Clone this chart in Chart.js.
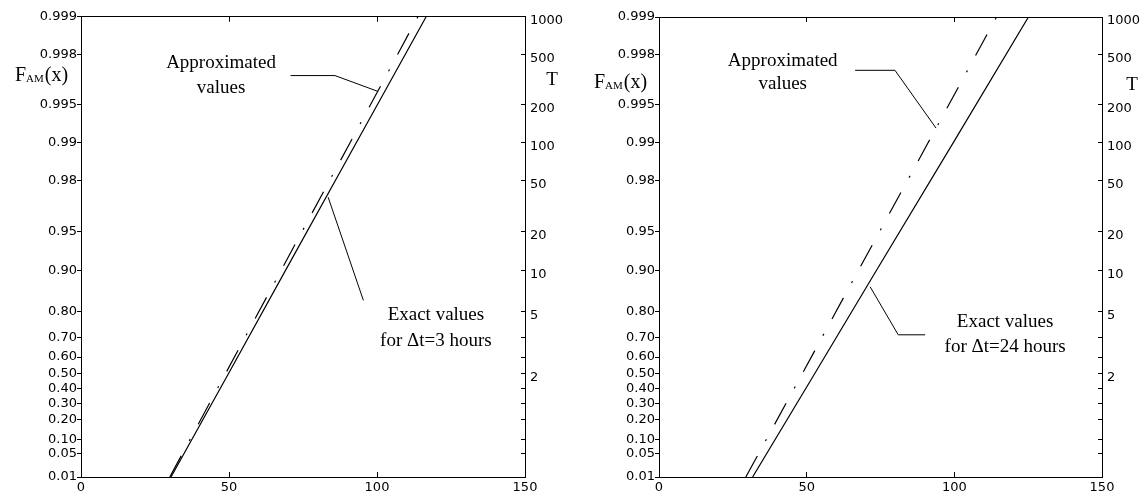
<!DOCTYPE html>
<html lang="en">
<head>
<meta charset="UTF-8">
<title>F_AM(x) - exact vs approximated values</title>
<script src="https://cdn.jsdelivr.net/npm/chart.js"></script>
<style>
    html, body { margin: 0; padding: 0; background: #fff; }
    #wrap { position: relative; width: 1147px; height: 495px; }
    .panel { position: absolute; top: 0; height: 495px; }
    #left { left: 0; width: 573px; }
    #right { left: 573px; width: 574px; }
</style>
</head>
<body>
<div id="wrap">
    <div class="panel" id="left"><canvas id="chartLeft"></canvas></div>
    <div class="panel" id="right"><canvas id="chartRight"></canvas></div>
</div>
<script>
// Gumbel probability paper: F on the left axis, return period T on the right
const probTicks = [0.01, 0.05, 0.10, 0.20, 0.30, 0.40, 0.50, 0.60, 0.70, 0.80, 0.90, 0.95, 0.98, 0.99, 0.995, 0.998, 0.999];
const probLabels = ['0.01', '0.05', '0.10', '0.20', '0.30', '0.40', '0.50', '0.60', '0.70', '0.80', '0.90', '0.95', '0.98', '0.99', '0.995', '0.998', '0.999'];
const periodLabels = ['', '', '', '', '', '', '2', '', '', '5', '10', '20', '50', '100', '200', '500', '1000'];
const xTicks = [0, 50, 100, 150];

// x values at these probability levels
const readProbs = [0.01, 0.50, 0.90, 0.99, 0.999];
const exact3h = [30.4, 49.8, 69.0, 93.0, 116.6];
const approx3h = [30.0, 48.8, 67.5, 90.9, 113.8];
const exact24h = [31.7, 52.7, 73.5, 99.6, 125.1];
const approx24h = [29.4, 48.5, 67.4, 91.1, 114.3];

// reduced variate, the axis is linear in it
const gumbel = p => -Math.log(-Math.log(p));

Chart.defaults.font.family = '"DejaVu Sans", sans-serif';
Chart.defaults.font.size = 13;
Chart.defaults.color = '#000';

const serif = '"Liberation Serif", "Times New Roman", serif';

// text + leader lines, positions in data units (x, reduced variate)
const notesPlugin = {
    id: 'notes',
    afterDraw(chart, args, opts) {
        const ctx = chart.ctx;
        const xs = chart.scales.x, ys = chart.scales.y;
        const area = chart.chartArea;
        ctx.save();
        ctx.strokeStyle = '#000';
        ctx.lineWidth = 1;
        opts.leaders.forEach(pts => {
            ctx.beginPath();
            pts.forEach((p, i) => {
                const px = xs.getPixelForValue(p[0]), py = ys.getPixelForValue(p[1]);
                if (i === 0) ctx.moveTo(px, py); else ctx.lineTo(px, py);
            });
            ctx.stroke();
        });
        ctx.fillStyle = '#000';
        ctx.font = '19px ' + serif;
        ctx.textAlign = 'center';
        ctx.textBaseline = 'middle';
        opts.texts.forEach(t => {
            ctx.fillText(t.text, xs.getPixelForValue(t.x), ys.getPixelForValue(t.g));
        });

        // axis titles: F_AM(x) left, T right
        const big = '20px ' + serif, small = '11px ' + serif;
        ctx.font = big; const wF = ctx.measureText('F').width; const wX = ctx.measureText('(x)').width;
        ctx.font = small; const wAM = ctx.measureText('AM').width;
        const cy = ys.getPixelForValue(opts.fTitleG);
        let sx = area.left + opts.fTitleDx - (wF + wAM + wX) / 2;
        ctx.textAlign = 'left';
        ctx.font = big; ctx.fillText('F', sx, cy);
        ctx.font = small; ctx.fillText('AM', sx + wF, cy + 4);
        ctx.font = big; ctx.fillText('(x)', sx + wF + wAM + 1, cy);
        ctx.textAlign = 'center';
        ctx.font = '19px ' + serif;
        ctx.fillText('T', area.right + opts.tTitleDx, ys.getPixelForValue(opts.tTitleG));
        ctx.restore();
    }
};

function setProbTicks(scale) {
    scale.ticks = probTicks.map(p => ({ value: gumbel(p) }));
}

function makePanel(canvasId, exact, approx, box, notes) {
    const ctx = document.getElementById(canvasId).getContext('2d');
    const yMin = gumbel(probTicks[0]), yMax = gumbel(probTicks[probTicks.length - 1]);
    return new Chart(ctx, {
        type: 'line',
        data: {
            datasets: [
                {
                    label: 'Exact values',
                    data: readProbs.map((p, i) => ({ x: exact[i], y: gumbel(p) })),
                    borderColor: '#000',
                    borderWidth: 1.2,
                    pointRadius: 0,
                    fill: false
                },
                {
                    label: 'Approximated values',
                    data: readProbs.map((p, i) => ({ x: approx[i], y: gumbel(p) })),
                    borderColor: '#000',
                    borderWidth: 1.2,
                    borderDash: [24, 17, 2, 17],
                    pointRadius: 0,
                    fill: false
                }
            ]
        },
        options: {
            responsive: true,
            maintainAspectRatio: false,
            animation: false,
            layout: { padding: 0 },
            plugins: {
                legend: { display: false },
                tooltip: { enabled: false },
                notes: notes
            },
            scales: {
                x: {
                    type: 'linear', position: 'bottom', min: 0, max: 150,
                    afterBuildTicks: s => { s.ticks = xTicks.map(v => ({ value: v })); },
                    afterFit: s => { s.height = box.bottom; },
                    grid: { drawOnChartArea: false, tickLength: -5, color: '#000' },
                    border: { color: '#000', width: 1 },
                    ticks: { padding: 8, maxRotation: 0 }
                },
                x2: {
                    type: 'linear', position: 'top', min: 0, max: 150,
                    afterBuildTicks: s => { s.ticks = xTicks.map(v => ({ value: v })); },
                    afterFit: s => { s.height = box.top; },
                    grid: { drawOnChartArea: false, tickLength: -5, color: '#000' },
                    border: { color: '#000', width: 1 },
                    ticks: { display: false }
                },
                y: {
                    type: 'linear', position: 'left', min: yMin, max: yMax,
                    afterBuildTicks: setProbTicks,
                    afterFit: s => { s.width = box.left; },
                    grid: { drawOnChartArea: false, tickLength: 4, color: '#000' },
                    border: { color: '#000', width: 1 },
                    ticks: { padding: 0, callback: (v, i) => probLabels[i] }
                },
                y2: {
                    type: 'linear', position: 'right', min: yMin, max: yMax,
                    afterBuildTicks: setProbTicks,
                    afterFit: s => { s.width = box.right; },
                    grid: { drawOnChartArea: false, tickLength: -4, color: '#000' },
                    border: { color: '#000', width: 1 },
                    ticks: { padding: 9, labelOffset: 4, callback: (v, i) => periodLabels[i] }
                }
            }
        },
        plugins: [notesPlugin]
    });
}

makePanel('chartLeft', exact3h, approx3h,
    { left: 81, right: 48, top: 16, bottom: 18 },
    {
        texts: [
            { text: 'Approximated', x: 47.3, g: 6.06 },
            { text: 'values', x: 47.3, g: 5.61 },
            { text: 'Exact values', x: 119.9, g: 1.44 },
            { text: 'for \u0394t=3 hours', x: 119.9, g: 0.97 }
        ],
        leaders: [
            [[70.8, 5.83], [85.8, 5.83], [100.3, 5.54]],
            [[83.5, 3.60], [95.4, 1.71]]
        ],
        fTitleG: 5.83, fTitleDx: -40,
        tTitleG: 5.74, tTitleDx: 27
    });

makePanel('chartRight', exact24h, approx24h,
    { left: 86, right: 45, top: 17, bottom: 18 },
    {
        texts: [
            { text: 'Approximated', x: 41.9, g: 6.10 },
            { text: 'values', x: 41.9, g: 5.67 },
            { text: 'Exact values', x: 117.2, g: 1.32 },
            { text: 'for \u0394t=24 hours', x: 117.2, g: 0.86 }
        ],
        leaders: [
            [[66.4, 5.93], [79.9, 5.93], [93.8, 4.87]],
            [[71.5, 1.96], [81.0, 1.08], [90.1, 1.08]]
        ],
        fTitleG: 5.71, fTitleDx: -39,
        tTitleG: 5.66, tTitleDx: 30
    });
</script>
</body>
</html>
